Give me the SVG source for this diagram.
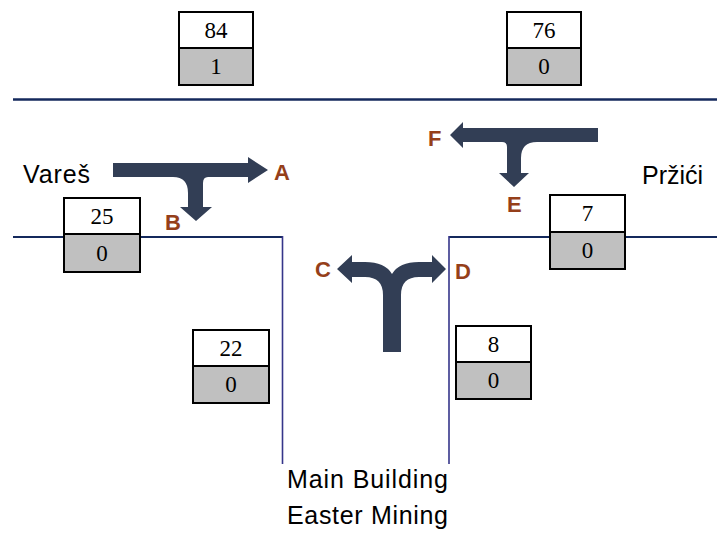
<svg xmlns="http://www.w3.org/2000/svg" width="717" height="541" viewBox="0 0 717 541">
<style>
.top{fill:#ffffff;stroke:#000;stroke-width:2}
.bot{fill:#c0c0c0;stroke:#000;stroke-width:2}
.num{font-family:"Liberation Serif","Times New Roman",serif;font-size:23px;fill:#000;text-anchor:middle}
.lbl{font-family:"Liberation Sans",Arial,sans-serif;font-size:25px;fill:#000}
.let{font-family:"Liberation Sans",Arial,sans-serif;font-size:22px;font-weight:bold;fill:#953f1a}
.arr{fill:#323e55}
.hl{stroke:#14295c;fill:none}
.vl{stroke:#35358a;stroke-width:1.6;fill:none}
</style>
<rect width="717" height="541" fill="#ffffff"/>
<g id="lines">
<line class="hl" x1="13" y1="99.5" x2="717" y2="99.5" stroke-width="2.4"/>
<line class="hl" x1="13" y1="237" x2="283" y2="237" stroke-width="1.8"/>
<line class="hl" x1="449" y1="237" x2="717" y2="237" stroke-width="1.8"/>
<line class="vl" x1="282.5" y1="236" x2="282.5" y2="464"/>
<line class="vl" x1="449" y1="236" x2="449" y2="464"/>
</g>
<g id="connectors">
<path class="arr" d="M113,163 L248,163 L248,157 L268,170 L248,183 L248,177 L208,177 Q203,177 203,183 L203,207 L212,207 L196,221 L180,207 L188,207 L188,193 Q188,177 173,177 L113,177 Z"/>
<path class="arr" d="M598,128 L463,128 L463,122 L450,135 L463,148 L463,142 L502,142 Q507,142 507,147 L507,173 L499,173 L514,187 L529,173 L521,173 L521,158 Q521,142 537,142 L598,142 Z"/>
<path class="arr" d="M383,352 L383,295 Q383,277 365,277 L352,277 L352,283 L337,269 L352,255 L352,262 L365,262 Q385,262 392,274 Q399,262 419,262 L432,262 L432,255 L446,269 L432,283 L432,277 L419,277 Q401,277 401,295 L401,352 Z"/>
</g>
<g id="letters">
<text class="let" x="274" y="180">A</text>
<text class="let" x="165" y="230">B</text>
<text class="let" x="315" y="277">C</text>
<text class="let" x="455" y="279">D</text>
<text class="let" x="507" y="212">E</text>
<text class="let" x="428" y="146">F</text>
</g>
<g id="labels">
<text class="lbl" x="23" y="183" textLength="67">Vareš</text>
<text class="lbl" x="642" y="184" textLength="61">Pržići</text>
<text class="lbl" x="287" y="488" textLength="161">Main Building</text>
<text class="lbl" x="287" y="524" textLength="161">Easter Mining</text>
</g>
<g id="node-84">
<rect class="top" x="179" y="12" width="74" height="36"/>
<rect class="bot" x="179" y="48" width="74" height="37"/>
<text class="num" x="216" y="38">84</text>
<text class="num" x="216" y="74">1</text>
</g>
<g id="node-76">
<rect class="top" x="507" y="12" width="74" height="36"/>
<rect class="bot" x="507" y="48" width="74" height="37"/>
<text class="num" x="544" y="38">76</text>
<text class="num" x="544" y="74">0</text>
</g>
<g id="node-25">
<rect class="top" x="64" y="198" width="76" height="36"/>
<rect class="bot" x="64" y="234" width="76" height="38"/>
<text class="num" x="102" y="224">25</text>
<text class="num" x="102" y="261">0</text>
</g>
<g id="node-7">
<rect class="top" x="550" y="195" width="75" height="37"/>
<rect class="bot" x="550" y="232" width="75" height="37"/>
<text class="num" x="587.5" y="221">7</text>
<text class="num" x="587.5" y="258">0</text>
</g>
<g id="node-22">
<rect class="top" x="193" y="330" width="76" height="36"/>
<rect class="bot" x="193" y="366" width="76" height="37"/>
<text class="num" x="231" y="356">22</text>
<text class="num" x="231" y="392">0</text>
</g>
<g id="node-8">
<rect class="top" x="456" y="326" width="75" height="36"/>
<rect class="bot" x="456" y="362" width="75" height="37"/>
<text class="num" x="493.5" y="352">8</text>
<text class="num" x="493.5" y="388">0</text>
</g>
</svg>
